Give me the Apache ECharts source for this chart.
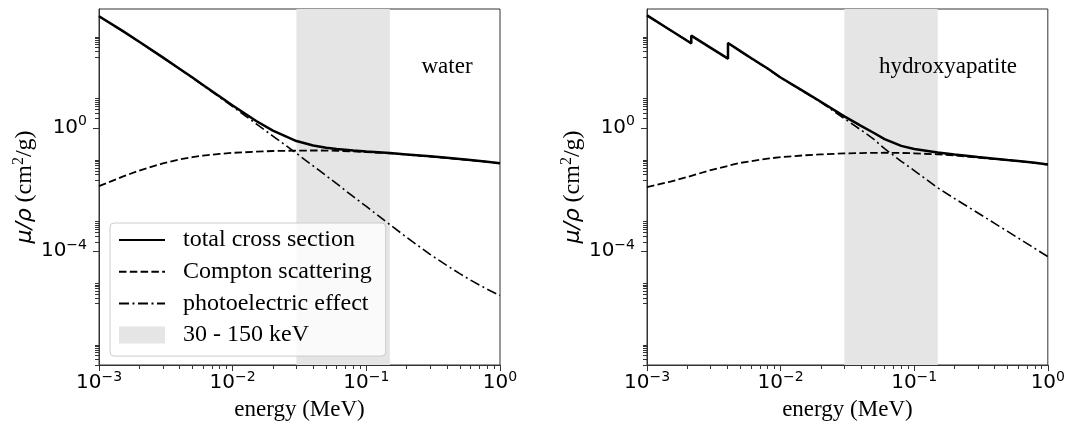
<!DOCTYPE html>
<html>
<head>
<meta charset="utf-8">
<script src="https://cdn.jsdelivr.net/npm/echarts@6/dist/echarts.min.js"></script>
<style>
html, body { margin: 0; padding: 0; background: #fff; }
#chart { width: 1068px; height: 426px; }
</style>
</head>
<body>
<div id="chart"></div>
<script>
// energies in MeV
var energy = [0.001, 0.0015, 0.002, 0.003, 0.004, 0.005, 0.006, 0.008, 0.01, 0.015, 0.02, 0.03, 0.04, 0.05, 0.06, 0.08, 0.1, 0.15, 0.2, 0.3, 0.4, 0.5, 0.6, 0.8, 1.0];
var waterTotal = [4200, 1400, 620, 194, 83, 42.8, 24.7, 10.4, 5.33, 1.67, 0.81, 0.372, 0.268, 0.227, 0.206, 0.184, 0.171, 0.151, 0.137, 0.119, 0.106, 0.0969, 0.0896, 0.0787, 0.0707];
var waterCompton = [0.0128, 0.026, 0.041, 0.070, 0.094, 0.112, 0.125, 0.143, 0.154, 0.168, 0.177, 0.182, 0.184, 0.183, 0.180, 0.172, 0.164, 0.148, 0.135, 0.117, 0.105, 0.0960, 0.0890, 0.0783, 0.0705];
var waterPhoto = [4190, 1390, 615, 191, 81.5, 41.6, 23.9, 9.8, 4.88, 1.35, 0.54, 0.149, 0.058, 0.028, 0.0154, 0.0058, 0.0028, 0.00072, 0.00028, 0.000078, 0.000034, 0.0000185, 0.0000115, 0.0000058, 0.0000036];

// hydroxyapatite, with the P and Ca K edges
var energyHA = [0.001, 0.0015, 0.002, 0.002145, 0.002145, 0.003, 0.004038, 0.004038, 0.005, 0.006, 0.008, 0.01, 0.015, 0.02, 0.03, 0.04, 0.05, 0.06, 0.08, 0.1, 0.15, 0.2, 0.3, 0.4, 0.5, 0.6, 0.8, 1.0];
var haTotal = [4470, 1470, 668, 552, 980, 395, 176, 569, 309, 184, 84, 43, 15, 7.0, 2.35, 1.15, 0.68, 0.43, 0.26, 0.205, 0.157, 0.136, 0.112, 0.099, 0.090, 0.084, 0.0735, 0.0646];
var haCompton = [0.0119, 0.0180, 0.0252, 0.0277, 0.0277, 0.0423, 0.0582, 0.0582, 0.073, 0.0827, 0.100, 0.1116, 0.128, 0.1365, 0.148, 0.152, 0.154, 0.155, 0.153, 0.149, 0.138, 0.128, 0.108, 0.097, 0.089, 0.083, 0.073, 0.0641];
var haPhoto = [4460, 1465, 665, 549, 977, 392, 174, 566, 307, 182, 83, 42.3, 14.6, 6.7, 2.0, 0.85, 0.42, 0.21, 0.082, 0.041, 0.0113, 0.0051, 0.00172, 0.00079, 0.000433, 0.000265, 0.000121, 0.000066];

var band = [0.03, 0.15];
var xRange = [0.001, 1];
var yRange = [2e-8, 7200];
var xTicks = [0.001, 0.01, 0.1, 1];
var yTicks = [1e-8, 1e-4, 1];
var minorSubs = [2, 3, 4, 5, 6, 7, 8, 9];
var xMinorDecades = [0.001, 0.01, 0.1];
var yMinorDecades = [1e-8, 1e-6, 1e-4, 1e-2, 1, 100];

function minors(decades) {
    var out = [];
    decades.forEach(function (d) {
        minorSubs.forEach(function (m) { out.push(m * d); });
    });
    return out;
}
var xMinorTicks = minors(xMinorDecades);
var yMinorTicks = minors(yMinorDecades);

function pairs(xs, ys) {
    return xs.map(function (x, i) { return [x, ys[i]]; });
}

var chart = echarts.init(document.getElementById('chart'));

var serif = 'Liberation Serif';
var tickRich = {
    b: { fontFamily: 'DejaVu Sans', fontSize: 20, color: '#000', lineHeight: 26 },
    e: { fontFamily: 'DejaVu Sans', fontSize: 14, color: '#000', lineHeight: 16, verticalAlign: 'top' }
};
function powLabel(v) {
    var e = Math.round(Math.log10(v));
    return '{b|10}{e|' + String(e).replace('-', '\u2212') + '}';
}

function majorAxis(dim, g) {
    var isX = dim === 'x';
    var ax = {
        type: 'log', logBase: 10, gridIndex: g,
        min: isX ? xRange[0] : yRange[0],
        max: isX ? xRange[1] : yRange[1],
        position: isX ? 'bottom' : 'left',
        axisLine: { show: true, onZero: false, lineStyle: { color: '#333', width: 1 } },
        axisTick: { show: true, length: 6, customValues: isX ? xTicks : yTicks, lineStyle: { color: '#333', width: 1 } },
        axisLabel: { show: true, customValues: isX ? xTicks : yTicks, formatter: powLabel, rich: tickRich, margin: isX ? 5 : 12 },
        splitLine: { show: false },
        minorTick: { show: false }
    };
    if (isX) {
        ax.name = 'energy (MeV)';
        ax.nameLocation = 'middle';
        ax.nameGap = 33;
        ax.nameTextStyle = { fontFamily: serif, fontSize: 23, color: '#000' };
    } else {
        ax.name = '{m|\u03bc/\u03c1} {s|(cm}{p|2}{s|/g)}';
        ax.nameLocation = 'middle';
        ax.nameRotate = 90;
        ax.nameGap = 58;
        ax.nameTextStyle = {
            color: '#000', fontFamily: serif, fontSize: 23,
            rich: {
                m: { fontFamily: 'DejaVu Sans', fontStyle: 'italic', fontSize: 22, color: '#000', lineHeight: 28 },
                s: { fontFamily: serif, fontSize: 24, color: '#000', lineHeight: 28 },
                p: { fontFamily: serif, fontSize: 16, color: '#000', lineHeight: 16, verticalAlign: 'top' }
            }
        };
    }
    return ax;
}

function minorAxis(dim, g) {
    var isX = dim === 'x';
    return {
        type: 'log', logBase: 10, gridIndex: g,
        min: isX ? xRange[0] : yRange[0],
        max: isX ? xRange[1] : yRange[1],
        position: isX ? 'bottom' : 'left',
        axisLine: { show: false },
        axisTick: { show: true, length: 4, customValues: isX ? xMinorTicks : yMinorTicks, lineStyle: { color: '#333', width: 1 } },
        axisLabel: { show: false },
        splitLine: { show: false },
        minorTick: { show: false }
    };
}

function curves(xs, total, compton, photo, axisIdx) {
    var base = { type: 'line', xAxisIndex: axisIdx, yAxisIndex: axisIdx, symbol: 'none', showSymbol: false, smooth: false, z: 3, animation: false };
    return [
        Object.assign({}, base, { name: 'total cross section', data: pairs(xs, total), color: '#000', lineStyle: { color: '#000', width: 2.5 } }),
        Object.assign({}, base, { name: 'Compton scattering', data: pairs(xs, compton), color: '#000', lineStyle: { color: '#000', width: 1.8, type: [7.5, 3.3] } }),
        Object.assign({}, base, { name: 'photoelectric effect', data: pairs(xs, photo), color: '#000', lineStyle: { color: '#000', width: 1.6, type: [10, 3.5, 2, 3.5] } }),
        {
            type: 'line', name: '30 - 150 keV', xAxisIndex: axisIdx, yAxisIndex: axisIdx, data: [], z: 1,
            color: '#e5e5e5', itemStyle: { color: '#e5e5e5' }, lineStyle: { color: '#e5e5e5' }, symbol: 'none',
            markArea: {
                silent: true, itemStyle: { color: '#e5e5e5' },
                data: [[{ xAxis: band[0], yAxis: yRange[0] }, { xAxis: band[1], yAxis: yRange[1] }]]
            }
        }
    ];
}

var gridBase = { top: 9, width: 401, height: 357, show: true, borderColor: '#333', borderWidth: 1, backgroundColor: 'transparent' };

var option = {
    animation: false,
    grid: [
        Object.assign({ left: 99 }, gridBase),
        Object.assign({ left: 647 }, gridBase)
    ],
    // index 0,2 carry the labels; 1,3 only the minor ticks
    xAxis: [majorAxis('x', 0), minorAxis('x', 0), majorAxis('x', 1), minorAxis('x', 1)],
    yAxis: [majorAxis('y', 0), minorAxis('y', 0), majorAxis('y', 1), minorAxis('y', 1)],
    legend: {
        left: 110, top: 223, orient: 'vertical',
        itemWidth: 46, itemHeight: 17, itemGap: 7.7,
        padding: [5, 14, 9, 8],
        backgroundColor: 'rgba(255,255,255,0.8)',
        borderColor: '#cccccc', borderWidth: 1, borderRadius: 4,
        selectedMode: false,
        // hide the round marker that line series put in their legend icon
        itemStyle: { opacity: 0 },
        textStyle: { fontFamily: serif, fontSize: 24, color: '#000', lineHeight: 24, padding: [0, 0, 0, 13] },
        data: [
            { name: 'total cross section' },
            { name: 'Compton scattering' },
            { name: 'photoelectric effect' },
            { name: '30 - 150 keV', icon: 'rect', itemStyle: { opacity: 1, color: '#e5e5e5' } }
        ]
    },
    graphic: [
        { type: 'text', z: 10, x: 447, y: 67, style: { text: 'water', fontFamily: serif, fontSize: 23, fill: '#000', align: 'center', verticalAlign: 'middle' } },
        { type: 'text', z: 10, x: 948, y: 67, style: { text: 'hydroxyapatite', fontFamily: serif, fontSize: 23, fill: '#000', align: 'center', verticalAlign: 'middle' } }
    ],
    series: [].concat(
        curves(energy, waterTotal, waterCompton, waterPhoto, 0),
        curves(energyHA, haTotal, haCompton, haPhoto, 2)
    )
};

chart.setOption(option);
</script>
</body>
</html>
